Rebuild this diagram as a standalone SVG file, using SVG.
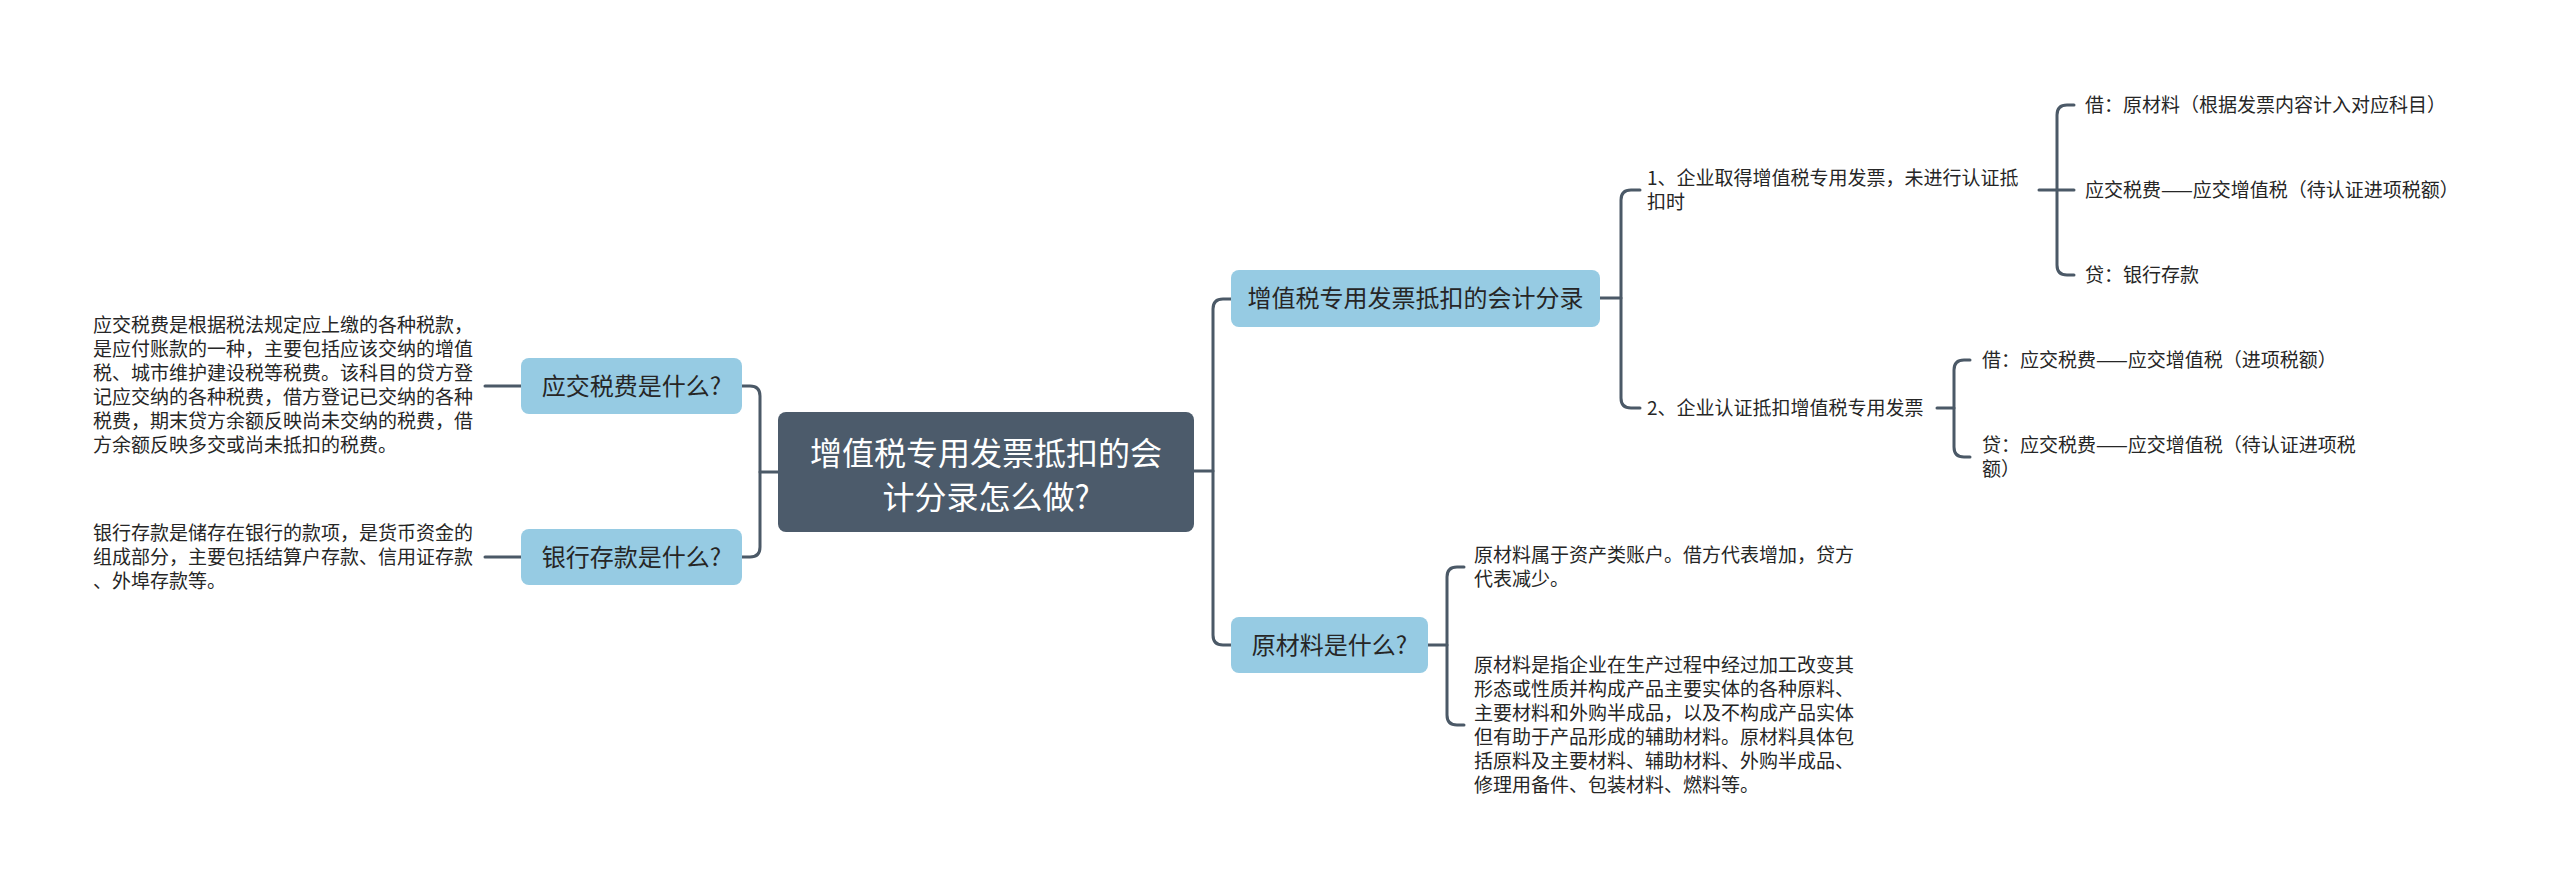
<svg xmlns="http://www.w3.org/2000/svg" width="2560" height="891" viewBox="0 0 2560 891">
<style>
  .bg { fill: #ffffff; }
  .conn { fill: none; stroke: #4b5967; stroke-width: 3; stroke-linecap: round; stroke-linejoin: round; }
  .root { fill: #4c5b6b; }
  .main { fill: #96cbe3; }
  .t { font-family: "Noto Sans CJK SC", "Noto Sans", sans-serif; fill: #262626; }
  .rt { font-family: "Noto Sans CJK SC", "Noto Sans", sans-serif; fill: #ffffff; font-size: 32px; }
  .mt { font-size: 24px; }
  .st { font-size: 19px; }
</style>
<rect class="bg" x="0" y="0" width="2560" height="891"/>
<g id="connectors">
  <path class="conn" d="M742,386 H750 Q760,386 760,396 V547 Q760,557 750,557 H742"/>
  <path class="conn" d="M760,472 H778"/>
  <path class="conn" d="M485,386 H521"/>
  <path class="conn" d="M485,557 H521"/>
  <path class="conn" d="M1194,471 H1213"/>
  <path class="conn" d="M1231,299 H1223 Q1213,299 1213,309 V635 Q1213,645 1223,645 H1231"/>
  <path class="conn" d="M1600,298 H1621"/>
  <path class="conn" d="M1640,190 H1631 Q1621,190 1621,200 V398 Q1621,408 1631,408 H1640"/>
  <path class="conn" d="M2039,190 H2074"/>
  <path class="conn" d="M2074,105 H2067 Q2057,105 2057,115 V265 Q2057,275 2067,275 H2074"/>
  <path class="conn" d="M1937,408 H1954"/>
  <path class="conn" d="M1970,360 H1964 Q1954,360 1954,370 V447 Q1954,457 1964,457 H1970"/>
  <path class="conn" d="M1428,645 H1447"/>
  <path class="conn" d="M1464,567 H1457 Q1447,567 1447,577 V715 Q1447,725 1457,725 H1464"/>
</g>
<g id="root">
  <rect class="root" x="778" y="412" width="416" height="120" rx="8"/>
  <text class="rt" x="986" y="465" text-anchor="middle">增值税专用发票抵扣的会</text>
  <text class="rt" x="986" y="509" text-anchor="middle">计分录怎么做?</text>
</g>
<g id="n-yjsf">
  <rect class="main" x="521" y="358" width="221" height="56" rx="8"/>
  <text class="t mt" x="631.5" y="395" text-anchor="middle">应交税费是什么?</text>
</g>
<g id="n-yjsf-desc">
  <text class="t st" x="93" y="332">应交税费是根据税法规定应上缴的各种税款，</text>
  <text class="t st" x="93" y="356">是应付账款的一种，主要包括应该交纳的增值</text>
  <text class="t st" x="93" y="380">税、城市维护建设税等税费。该科目的贷方登</text>
  <text class="t st" x="93" y="404">记应交纳的各种税费，借方登记已交纳的各种</text>
  <text class="t st" x="93" y="428">税费，期末贷方余额反映尚未交纳的税费，借</text>
  <text class="t st" x="93" y="452">方余额反映多交或尚未抵扣的税费。</text>
</g>
<g id="n-yhck">
  <rect class="main" x="521" y="529" width="221" height="56" rx="8"/>
  <text class="t mt" x="631.5" y="566" text-anchor="middle">银行存款是什么?</text>
</g>
<g id="n-yhck-desc">
  <text class="t st" x="93" y="540">银行存款是储存在银行的款项，是货币资金的</text>
  <text class="t st" x="93" y="564">组成部分，主要包括结算户存款、信用证存款</text>
  <text class="t st" x="93" y="588">、外埠存款等。</text>
</g>
<g id="n-zzs">
  <rect class="main" x="1231" y="270" width="369" height="57" rx="8"/>
  <text class="t mt" x="1415.5" y="307" text-anchor="middle">增值税专用发票抵扣的会计分录</text>
</g>
<g id="n-step1">
  <text class="t st" x="1647" y="185">1、企业取得增值税专用发票，未进行认证抵</text>
  <text class="t st" x="1647" y="209">扣时</text>
</g>
<g id="n-step1-a">
  <text class="t st" x="2085" y="112">借：原材料（根据发票内容计入对应科目）</text>
</g>
<g id="n-step1-b">
  <text class="t st" x="2085" y="197">应交税费——应交增值税（待认证进项税额）</text>
</g>
<g id="n-step1-c">
  <text class="t st" x="2085" y="282">贷：银行存款</text>
</g>
<g id="n-step2">
  <text class="t st" x="1647" y="415">2、企业认证抵扣增值税专用发票</text>
</g>
<g id="n-step2-a">
  <text class="t st" x="1982" y="367">借：应交税费——应交增值税（进项税额）</text>
</g>
<g id="n-step2-b">
  <text class="t st" x="1982" y="452">贷：应交税费——应交增值税（待认证进项税</text>
  <text class="t st" x="1982" y="476">额）</text>
</g>
<g id="n-ycl">
  <rect class="main" x="1231" y="617" width="197" height="56" rx="8"/>
  <text class="t mt" x="1329.5" y="654" text-anchor="middle">原材料是什么?</text>
</g>
<g id="n-ycl-a">
  <text class="t st" x="1474" y="562">原材料属于资产类账户。借方代表增加，贷方</text>
  <text class="t st" x="1474" y="586">代表减少。</text>
</g>
<g id="n-ycl-b">
  <text class="t st" x="1474" y="672">原材料是指企业在生产过程中经过加工改变其</text>
  <text class="t st" x="1474" y="696">形态或性质并构成产品主要实体的各种原料、</text>
  <text class="t st" x="1474" y="720">主要材料和外购半成品，以及不构成产品实体</text>
  <text class="t st" x="1474" y="744">但有助于产品形成的辅助材料。原材料具体包</text>
  <text class="t st" x="1474" y="768">括原料及主要材料、辅助材料、外购半成品、</text>
  <text class="t st" x="1474" y="792">修理用备件、包装材料、燃料等。</text>
</g>
</svg>
